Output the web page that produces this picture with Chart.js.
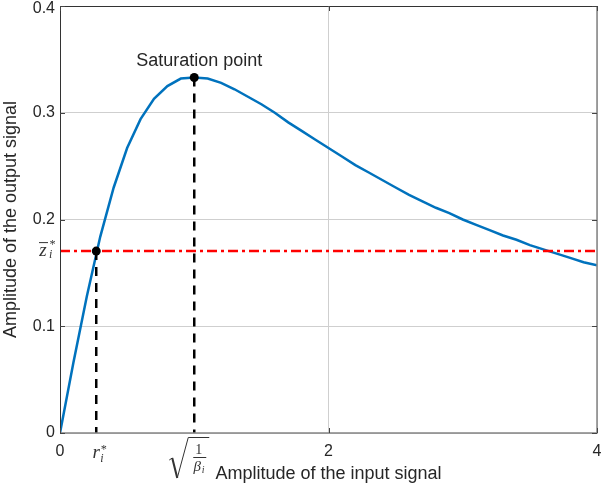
<!DOCTYPE html>
<html>
<head>
<meta charset="utf-8">
<script src="https://cdn.jsdelivr.net/npm/chart.js@4.4.1/dist/chart.umd.min.js"></script>
<style>
  body { margin: 0; background: #fff; }
</style>
</head>
<body>
<canvas id="ampChart" width="603" height="491"></canvas>
<script>
// values
const inputAmplitude = [0, 0.1, 0.2, 0.3, 0.4, 0.5, 0.6, 0.7, 0.8, 0.9, 1.0,
    1.1, 1.2, 1.3, 1.4, 1.5, 1.6, 1.7, 1.8, 1.9, 2.0,
    2.1, 2.2, 2.3, 2.4, 2.5, 2.6, 2.7, 2.8, 2.9, 3.0,
    3.1, 3.2, 3.3, 3.4, 3.5, 3.6, 3.7, 3.8, 3.9, 4.0];
const outputAmplitude = [0, 0.066, 0.128, 0.184, 0.230, 0.267, 0.294, 0.313, 0.325, 0.332, 0.333,
    0.332, 0.328, 0.322, 0.315, 0.308, 0.300, 0.291, 0.283, 0.275, 0.267,
    0.259, 0.251, 0.244, 0.237, 0.230, 0.223, 0.217, 0.211, 0.206, 0.200,
    0.195, 0.190, 0.185, 0.181, 0.176, 0.172, 0.168, 0.164, 0.160, 0.157];

const saturationX = 1.0;
const saturationY = 0.333;
const crossingX = 0.27;   // r_i*
const crossingY = 0.1704; // z_i*

const xTicks = [0, 2, 4];
const xTickLabels = ['0', '2', '4'];
const yTicks = [0, 0.1, 0.2, 0.3, 0.4];
const yTickLabels = ['0', '0.1', '0.2', '0.3', '0.4'];

const textColor = '#262626';
const sansFont = 'Liberation Sans, Arial, sans-serif';
const serifFont = 'Liberation Serif, Times New Roman, serif';

// box, inward ticks and the math / annotation labels
const decorPlugin = {
    id: 'decor',
    afterDatasetsDraw(chart) {
        const ctx = chart.ctx;
        const a = chart.chartArea;
        const xs = chart.scales.x;
        const ys = chart.scales.y;

        ctx.save();
        // box
        ctx.lineWidth = 1;
        ctx.strokeStyle = '#333';
        ctx.beginPath();
        ctx.moveTo(a.left + 0.5, a.bottom);
        ctx.lineTo(a.left + 0.5, a.top + 0.5);
        ctx.lineTo(a.right, a.top + 0.5);
        ctx.stroke();
        ctx.strokeStyle = '#858585';
        ctx.lineWidth = 1.5;
        ctx.beginPath();
        ctx.moveTo(a.left, a.bottom);
        ctx.lineTo(a.right, a.bottom);
        ctx.lineTo(a.right, a.top);
        ctx.stroke();

        // inward ticks
        ctx.lineWidth = 1;
        ctx.strokeStyle = '#444';
        ctx.beginPath();
        yTicks.forEach(v => {
            const py = Math.round(ys.getPixelForValue(v)) + 0.5;
            ctx.moveTo(a.left, py); ctx.lineTo(a.left + 5, py);
            ctx.moveTo(a.right, py); ctx.lineTo(a.right - 5, py);
        });
        xTicks.forEach(v => {
            const px = Math.round(xs.getPixelForValue(v)) + 0.5;
            ctx.moveTo(px, a.bottom); ctx.lineTo(px, a.bottom - 5);
            ctx.moveTo(px, a.top); ctx.lineTo(px, a.top + 5);
        });
        ctx.stroke();

        // top y label, nudged down so it is not cut by the canvas edge
        const lastY = yTicks.length - 1;
        ctx.fillStyle = textColor;
        ctx.font = '16px ' + sansFont;
        ctx.textAlign = 'right';
        ctx.textBaseline = 'middle';
        ctx.fillText(yTickLabels[lastY], a.left - 5, Math.max(ys.getPixelForValue(yTicks[lastY]), 9));

        // Saturation point label
        const sx = xs.getPixelForValue(saturationX);
        const sy = ys.getPixelForValue(saturationY);
        ctx.font = '18px ' + sansFont;
        ctx.textAlign = 'center';
        ctx.fillText('Saturation point', sx + 5, sy - 16);

        // r_i* under the first dashed line
        const rx = xs.getPixelForValue(crossingX);
        const by = a.bottom;
        ctx.fillStyle = '#333';
        ctx.textBaseline = 'alphabetic';
        ctx.textAlign = 'center';
        ctx.font = 'italic 19px ' + serifFont;
        ctx.fillText('r', rx, by + 25);
        ctx.textAlign = 'left';
        ctx.font = 'italic 12px ' + serifFont;
        ctx.fillText('*', rx + 4, by + 20);
        ctx.fillText('i', rx + 4, by + 29);

        // sqrt(1/beta_i) under the saturation line
        ctx.strokeStyle = '#333';
        ctx.lineWidth = 1;
        ctx.beginPath();
        ctx.moveTo(sx - 25, by + 27);
        ctx.lineTo(sx - 22, by + 25);
        ctx.stroke();
        ctx.lineWidth = 2;
        ctx.beginPath();
        ctx.moveTo(sx - 22, by + 25);
        ctx.lineTo(sx - 17, by + 45);
        ctx.stroke();
        ctx.lineWidth = 1;
        ctx.beginPath();
        ctx.moveTo(sx - 17, by + 45);
        ctx.lineTo(sx - 6, by + 4.5);
        ctx.lineTo(sx + 15, by + 4.5);
        ctx.stroke();
        ctx.beginPath();
        ctx.moveTo(sx - 1, by + 24.5);
        ctx.lineTo(sx + 12, by + 24.5);
        ctx.stroke();
        ctx.textAlign = 'center';
        ctx.font = '14px ' + serifFont;
        ctx.fillText('1', sx + 4.5, by + 21);
        ctx.font = 'italic 15px ' + serifFont;
        ctx.fillText('\u03B2', sx + 3, by + 38);
        ctx.font = 'italic 10px ' + serifFont;
        ctx.fillText('i', sx + 9, by + 40);

        // z-bar_i* on the y axis
        const zy = ys.getPixelForValue(crossingY);
        ctx.font = 'italic 19px ' + serifFont;
        ctx.textAlign = 'center';
        ctx.fillText('z', a.left - 17, zy + 5);
        ctx.beginPath();
        ctx.moveTo(a.left - 21, zy - 8.5);
        ctx.lineTo(a.left - 12, zy - 8.5);
        ctx.stroke();
        ctx.font = 'italic 12px ' + serifFont;
        ctx.textAlign = 'left';
        ctx.fillText('*', a.left - 11, zy - 3);
        ctx.fillText('i', a.left - 11, zy + 7);
        ctx.restore();
    }
};

window.onload = function () {
    const ctx = document.getElementById('ampChart').getContext('2d');

    const curve = inputAmplitude.map((x, i) => ({ x: x, y: outputAmplitude[i] }));

    new Chart(ctx, {
        type: 'scatter',
        data: {
            datasets: [
                {
                    // marker dots
                    data: [{ x: crossingX, y: crossingY }, { x: saturationX, y: saturationY }],
                    showLine: false,
                    pointRadius: 4.5,
                    pointBackgroundColor: '#000',
                    pointBorderColor: '#000',
                    pointBorderWidth: 0
                },
                {
                    data: [{ x: crossingX, y: crossingY }, { x: crossingX, y: 0 }],
                    showLine: true,
                    borderColor: '#000',
                    borderWidth: 2.5,
                    borderDash: [9, 7],
                    pointRadius: 0
                },
                {
                    data: [{ x: saturationX, y: saturationY }, { x: saturationX, y: 0 }],
                    showLine: true,
                    borderColor: '#000',
                    borderWidth: 2.5,
                    borderDash: [9, 7],
                    pointRadius: 0
                },
                {
                    data: [{ x: 0, y: crossingY }, { x: 4, y: crossingY }],
                    showLine: true,
                    borderColor: '#ff0000',
                    borderWidth: 2.5,
                    borderDash: [10, 4, 3, 4],
                    pointRadius: 0
                },
                {
                    data: curve,
                    showLine: true,
                    borderColor: '#0072BD',
                    borderWidth: 2.5,
                    pointRadius: 0,
                    tension: 0
                }
            ]
        },
        options: {
            responsive: false,
            animation: false,
            layout: { padding: { left: 0, right: 6, top: 6, bottom: 0 } },
            plugins: {
                legend: { display: false },
                tooltip: { enabled: false }
            },
            scales: {
                x: {
                    type: 'linear',
                    min: 0,
                    max: 4,
                    afterBuildTicks: s => { s.ticks = xTicks.map(v => ({ value: v })); },
                    afterFit: s => { s.height = 58; s.paddingLeft = 0; s.paddingRight = 0; },
                    grid: { color: '#cfcfcf', lineWidth: 1, drawTicks: false },
                    border: { display: false },
                    ticks: {
                        padding: 9,
                        maxRotation: 0,
                        color: textColor,
                        font: { family: sansFont, size: 16 },
                        callback: (v, i) => xTickLabels[i]
                    },
                    title: {
                        display: true,
                        text: 'Amplitude of the input signal',
                        color: textColor,
                        font: { family: sansFont, size: 18 },
                        padding: { top: 0, bottom: 6 }
                    }
                },
                y: {
                    min: 0,
                    max: 0.4,
                    afterBuildTicks: s => { s.ticks = yTicks.map(v => ({ value: v })); },
                    afterFit: s => { s.width = 60; s.paddingTop = 0; s.paddingBottom = 0; },
                    grid: { color: '#cfcfcf', lineWidth: 1, drawTicks: false },
                    border: { display: false },
                    ticks: {
                        padding: 5,
                        color: textColor,
                        font: { family: sansFont, size: 16 },
                        // top label is drawn by the plugin
                        callback: (v, i) => (i === yTicks.length - 1 ? '' : yTickLabels[i])
                    },
                    title: {
                        display: true,
                        text: 'Amplitude of the output signal',
                        color: textColor,
                        font: { family: sansFont, size: 18 },
                        padding: { top: 0, bottom: 0 }
                    }
                }
            }
        },
        plugins: [decorPlugin]
    });
};
</script>
</body>
</html>
